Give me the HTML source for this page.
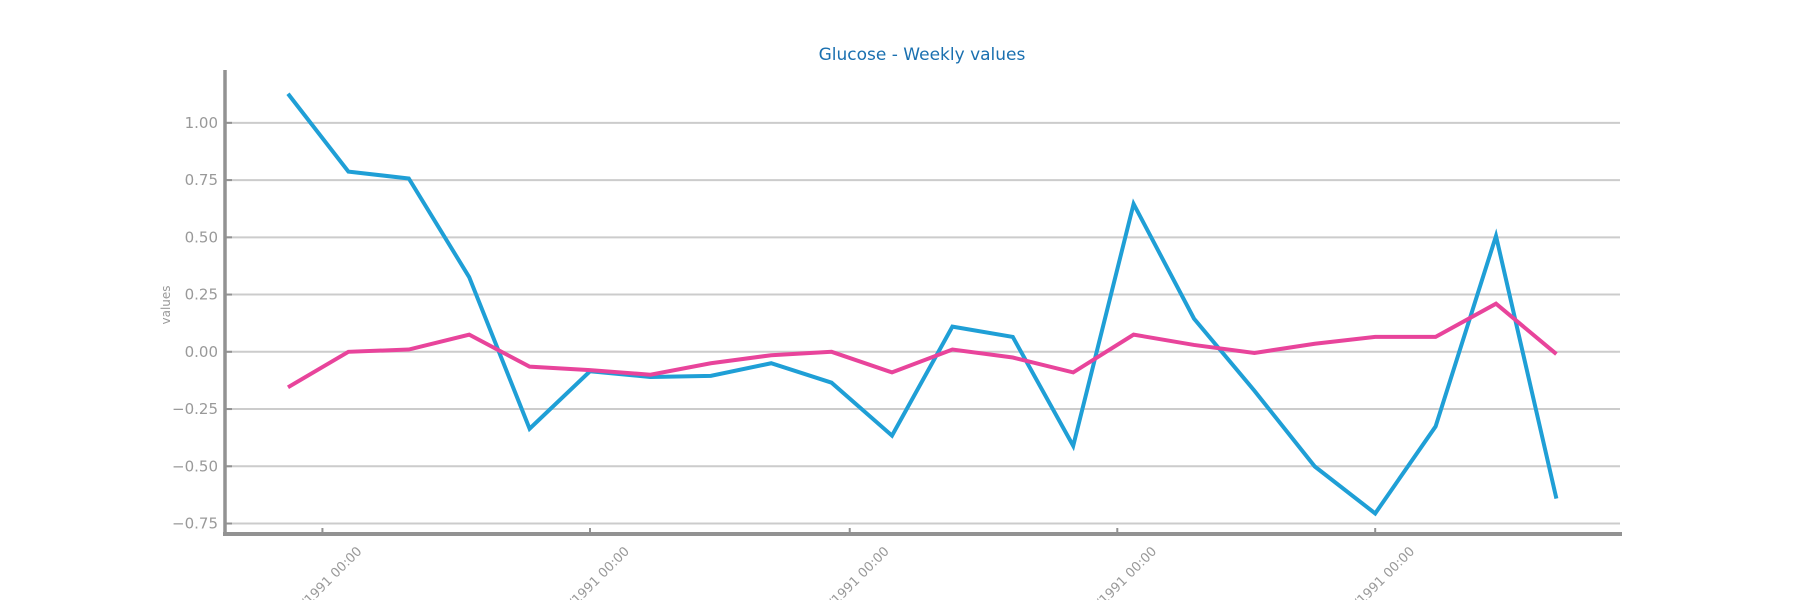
<!DOCTYPE html>
<html><head><meta charset="utf-8"><style>
html,body{margin:0;padding:0;background:#fff;width:1800px;height:600px;overflow:hidden;}
svg{display:block;font-family:"DejaVu Sans","Liberation Sans",sans-serif;overflow:hidden;}
</style></head><body>
<svg id="chart" width="1800" height="600" viewBox="0 0 1800 600"></svg>
<script>
const blueValues=[1.127,0.787,0.757,0.326,-0.336,-0.085,-0.110,-0.105,-0.05,-0.135,-0.366,0.110,0.065,-0.411,0.646,0.145,-0.170,-0.501,-0.706,-0.326,0.506,-0.641];
const pinkValues=[-0.155,0,0.01,0.075,-0.065,-0.08,-0.10,-0.05,-0.015,0,-0.09,0.01,-0.025,-0.09,0.075,0.03,-0.005,0.035,0.065,0.065,0.21,-0.01];
const yTicks=[1.00,0.75,0.50,0.25,0.00,-0.25,-0.50,-0.75];
const xTickLabels=["01/03/1991 00:00","01/04/1991 00:00","01/05/1991 00:00","01/06/1991 00:00","01/07/1991 00:00"];
const xTickIdx=[0.57,5.0,9.3,13.73,18.0];

const NS="http://www.w3.org/2000/svg";
const svgEl=document.getElementById('chart');
function mk(t,a){const e=document.createElementNS(NS,t);for(const k in a)e.setAttribute(k,a[k]);svgEl.appendChild(e);return e;}
const x0=288,dx=60.4;
function xs(i){return x0+i*dx;}
function ys(v){return 351.8-v*228.96;}
const plotLeft=225,plotRight=1620,plotBottom=534,plotTop=70;

yTicks.forEach(v=>{
 const y=ys(v);
 const g=mk('line',{x1:plotLeft,x2:plotRight,y1:y,y2:y,stroke:'#cccccc','stroke-width':2});
 
 
 const tk=mk('line',{x1:plotLeft,x2:plotLeft+7,y1:y,y2:y,stroke:'#929292','stroke-width':2});
 
 
 const t=mk('text',{x:218,y:y+5,'text-anchor':'end','font-size':15,fill:'#999'});
 t.textContent=(v<0?'\u2212':'')+Math.abs(v).toFixed(2);
 
 
});
xTickIdx.forEach((ix,k)=>{
 const x=xs(ix);
 const tk=mk('line',{x1:x,x2:x,y1:plotBottom-6,y2:plotBottom,stroke:'#929292','stroke-width':2});
 
 
 const t=mk('text',{x:x+40,y:plotBottom+18,'text-anchor':'end','font-size':13,fill:'#999',transform:'rotate(-45 '+(x+40)+' '+(plotBottom+18)+')'});
 t.textContent=xTickLabels[k];
 
 
});
const ya=mk('line',{x1:plotLeft,x2:plotLeft,y1:plotTop,y2:plotBottom+2,stroke:'#929292','stroke-width':3.5});


const xa=mk('line',{x1:plotLeft-2,x2:plotRight+2,y1:plotBottom,y2:plotBottom,stroke:'#929292','stroke-width':4});



function series(vals,color,name){
 const p=mk('polyline',{points:vals.map((v,i)=>xs(i)+','+ys(v)).join(' '),fill:'none',stroke:color,'stroke-width':4,'stroke-linejoin':'miter'});
 
 
}
series(blueValues,'#1f9fd6','series-blue-line');
series(pinkValues,'#e8449b','series-pink-line');

const title=mk('text',{x:922,y:60,'text-anchor':'middle','font-size':17,fill:'#1a70b0'});
title.textContent='Glucose - Weekly values';


const yl=mk('text',{x:170,y:305,'text-anchor':'middle','font-size':12,fill:'#999',transform:'rotate(-90 170 305)'});
yl.textContent='values';


</script>
</body></html>
